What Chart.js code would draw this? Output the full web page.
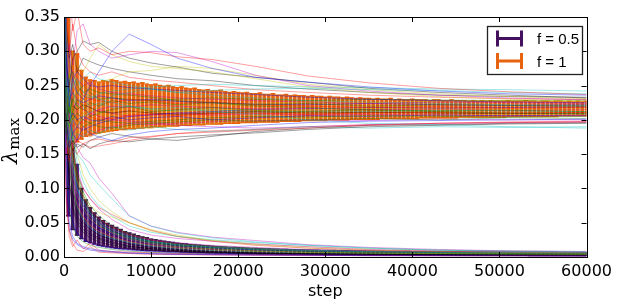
<!DOCTYPE html>
<html>
<head>
<meta charset="utf-8">
<script src="https://cdn.jsdelivr.net/npm/chart.js@4.4.0/dist/chart.umd.min.js"></script>
<style>
html, body { margin: 0; padding: 0; background: #fff; }
</style>
</head>
<body>
<canvas id="chart" width="617" height="300"></canvas>
<script>
// steps at which the individual runs are sampled
const lineSteps = [0, 250, 600, 1000, 1500, 2200, 3000, 4000, 5500, 7500, 10000, 13000, 17000, 22000, 28000, 35000, 43000, 51000, 60000];

// f = 1 runs (upper group, settle near 0.21)
const runsF1 = [
    [0.52,0.30,0.22,0.26,0.24,0.23,0.25,0.27,0.30,0.325,0.31,0.29,0.275,0.262,0.255,0.248,0.242,0.238,0.236],
    [0.40,0.18,0.25,0.21,0.23,0.22,0.205,0.21,0.215,0.22,0.212,0.215,0.218,0.214,0.212,0.215,0.213,0.214,0.212],
    [0.60,0.35,0.40,0.33,0.36,0.31,0.30,0.305,0.295,0.30,0.298,0.292,0.288,0.278,0.264,0.254,0.246,0.241,0.237],
    [0.45,0.22,0.17,0.20,0.19,0.205,0.21,0.22,0.235,0.24,0.245,0.24,0.243,0.245,0.246,0.244,0.243,0.240,0.238],
    [0.38,0.26,0.31,0.28,0.33,0.34,0.31,0.30,0.29,0.295,0.30,0.298,0.285,0.265,0.25,0.242,0.236,0.232,0.229],
    [0.55,0.33,0.26,0.30,0.28,0.27,0.29,0.31,0.295,0.285,0.278,0.275,0.27,0.26,0.248,0.24,0.234,0.23,0.228],
    [0.42,0.28,0.25,0.29,0.30,0.315,0.31,0.313,0.30,0.29,0.283,0.277,0.268,0.262,0.255,0.246,0.24,0.236,0.232],
    [0.33,0.20,0.16,0.18,0.17,0.19,0.18,0.175,0.17,0.178,0.183,0.186,0.188,0.192,0.196,0.198,0.199,0.2,0.201],
    [0.47,0.24,0.21,0.23,0.22,0.215,0.225,0.22,0.228,0.224,0.226,0.222,0.225,0.222,0.224,0.22,0.222,0.221,0.22],
    [0.36,0.17,0.14,0.16,0.15,0.165,0.17,0.172,0.168,0.174,0.176,0.18,0.182,0.185,0.188,0.192,0.195,0.196,0.197],
    [0.50,0.27,0.23,0.25,0.26,0.24,0.235,0.23,0.225,0.22,0.216,0.218,0.212,0.208,0.2,0.195,0.193,0.19,0.188],
    [0.44,0.25,0.28,0.27,0.26,0.25,0.255,0.245,0.24,0.238,0.235,0.232,0.23,0.228,0.226,0.224,0.226,0.225,0.224],
    [0.40,0.21,0.24,0.22,0.25,0.23,0.24,0.255,0.26,0.27,0.272,0.278,0.275,0.265,0.252,0.244,0.238,0.234,0.231],
    [0.37,0.19,0.17,0.155,0.165,0.16,0.17,0.175,0.18,0.176,0.172,0.175,0.178,0.181,0.186,0.19,0.192,0.194,0.195],
    [0.48,0.23,0.20,0.21,0.2,0.205,0.2,0.198,0.205,0.2,0.203,0.205,0.2,0.203,0.206,0.205,0.207,0.206,0.207],
    [0.35,0.19,0.22,0.2,0.21,0.2,0.195,0.19,0.188,0.192,0.195,0.197,0.2,0.198,0.2,0.202,0.2,0.203,0.202],
    [0.58,0.31,0.27,0.24,0.25,0.235,0.23,0.228,0.225,0.23,0.228,0.224,0.226,0.222,0.22,0.218,0.219,0.217,0.218],
    [0.30,0.16,0.18,0.17,0.18,0.175,0.185,0.18,0.19,0.185,0.19,0.186,0.183,0.186,0.19,0.188,0.19,0.189,0.19],
    [0.46,0.29,0.24,0.22,0.225,0.215,0.21,0.205,0.2,0.198,0.196,0.192,0.19,0.188,0.19,0.193,0.195,0.196,0.197],
    [0.39,0.22,0.19,0.205,0.195,0.21,0.2,0.21,0.205,0.21,0.215,0.212,0.216,0.214,0.215,0.217,0.216,0.215,0.216],
    [0.34,0.18,0.16,0.17,0.16,0.165,0.158,0.165,0.17,0.168,0.172,0.17,0.176,0.183,0.188,0.192,0.193,0.195,0.196],
    [0.41,0.26,0.23,0.24,0.23,0.225,0.23,0.235,0.232,0.228,0.23,0.227,0.225,0.223,0.222,0.224,0.222,0.221,0.222],
    [0.53,0.28,0.26,0.27,0.25,0.24,0.245,0.24,0.238,0.236,0.233,0.228,0.225,0.22,0.218,0.214,0.212,0.21,0.209],
    [0.43,0.24,0.2,0.19,0.2,0.195,0.205,0.2,0.202,0.207,0.208,0.206,0.209,0.21,0.208,0.21,0.211,0.21,0.211],
    [0.49,0.3,0.27,0.25,0.24,0.235,0.232,0.238,0.242,0.245,0.248,0.25,0.252,0.25,0.248,0.247,0.245,0.244,0.242],
    [0.37,0.2,0.18,0.2,0.19,0.2,0.21,0.215,0.22,0.218,0.222,0.22,0.218,0.216,0.217,0.215,0.216,0.214,0.215],
    [0.44,0.19,0.16,0.175,0.185,0.18,0.175,0.18,0.185,0.19,0.188,0.192,0.195,0.2,0.203,0.205,0.206,0.208,0.208],
    [0.51,0.27,0.24,0.22,0.215,0.222,0.218,0.212,0.21,0.213,0.21,0.208,0.21,0.212,0.21,0.211,0.21,0.209,0.21],
    [0.57,0.32,0.29,0.26,0.27,0.26,0.25,0.248,0.25,0.247,0.245,0.243,0.24,0.237,0.233,0.23,0.228,0.226,0.225],
    [0.36,0.21,0.19,0.21,0.2,0.19,0.195,0.2,0.197,0.195,0.198,0.2,0.203,0.205,0.204,0.206,0.205,0.204,0.205],
    [0.62,0.38,0.3,0.34,0.3,0.28,0.27,0.265,0.27,0.262,0.258,0.255,0.25,0.244,0.24,0.236,0.233,0.231,0.23],
    [0.41,0.23,0.26,0.24,0.22,0.23,0.22,0.225,0.218,0.22,0.215,0.213,0.215,0.211,0.213,0.212,0.214,0.213,0.212],
    [0.33,0.15,0.18,0.16,0.17,0.18,0.175,0.185,0.19,0.195,0.193,0.195,0.197,0.199,0.2,0.199,0.201,0.2,0.2],
    [0.48,0.28,0.23,0.21,0.22,0.21,0.215,0.21,0.212,0.217,0.219,0.222,0.22,0.224,0.226,0.225,0.227,0.228,0.227],
    [0.54,0.34,0.29,0.31,0.27,0.29,0.285,0.28,0.275,0.27,0.265,0.26,0.257,0.25,0.245,0.24,0.236,0.234,0.233],
    [0.39,0.17,0.2,0.18,0.19,0.185,0.19,0.195,0.2,0.205,0.207,0.21,0.212,0.215,0.216,0.218,0.217,0.218,0.219],
    [0.46,0.25,0.21,0.23,0.24,0.25,0.24,0.23,0.232,0.23,0.228,0.23,0.232,0.23,0.228,0.23,0.229,0.228,0.229],
    [0.35,0.2,0.17,0.165,0.17,0.165,0.16,0.162,0.165,0.17,0.175,0.18,0.184,0.186,0.19,0.193,0.195,0.197,0.198],
    [0.50,0.26,0.24,0.26,0.25,0.26,0.27,0.26,0.255,0.25,0.245,0.24,0.236,0.232,0.228,0.226,0.224,0.222,0.221],
    [0.43,0.22,0.25,0.23,0.21,0.2,0.205,0.215,0.21,0.205,0.208,0.21,0.207,0.209,0.207,0.208,0.207,0.206,0.206]
];

// f = 0.5 runs (lower group, decay towards 0)
const runsF05 = [
    [0.45,0.30,0.22,0.17,0.15,0.14,0.12,0.105,0.085,0.06,0.045,0.035,0.028,0.022,0.017,0.013,0.01,0.008,0.007],
    [0.50,0.35,0.25,0.19,0.16,0.145,0.137,0.115,0.093,0.06,0.045,0.036,0.029,0.024,0.018,0.014,0.011,0.009,0.008],
    [0.42,0.28,0.2,0.14,0.11,0.09,0.075,0.065,0.058,0.05,0.04,0.032,0.024,0.018,0.013,0.01,0.008,0.007,0.006],
    [0.48,0.26,0.15,0.1,0.07,0.05,0.04,0.032,0.025,0.019,0.014,0.011,0.008,0.006,0.005,0.004,0.0035,0.003,0.0025],
    [0.30,0.12,0.05,0.03,0.02,0.015,0.012,0.01,0.008,0.006,0.005,0.004,0.0035,0.003,0.0025,0.002,0.002,0.0018,0.0015],
    [0.55,0.33,0.24,0.17,0.12,0.09,0.07,0.055,0.042,0.031,0.023,0.018,0.014,0.011,0.008,0.0065,0.0055,0.005,0.0045],
    [0.25,0.08,0.03,0.015,0.025,0.012,0.02,0.01,0.008,0.007,0.006,0.005,0.004,0.0035,0.003,0.0025,0.002,0.002,0.0018],
    [0.52,0.32,0.23,0.18,0.14,0.11,0.09,0.075,0.06,0.045,0.036,0.03,0.025,0.021,0.017,0.013,0.01,0.009,0.008],
    [0.47,0.3,0.21,0.16,0.13,0.1,0.085,0.07,0.055,0.04,0.032,0.027,0.023,0.019,0.015,0.011,0.009,0.008,0.007],
    [0.40,0.25,0.17,0.12,0.09,0.07,0.055,0.045,0.035,0.026,0.02,0.015,0.012,0.009,0.007,0.006,0.005,0.0045,0.004],
    [0.44,0.22,0.13,0.09,0.06,0.045,0.035,0.028,0.022,0.016,0.012,0.009,0.007,0.0055,0.0045,0.004,0.0035,0.003,0.003],
    [0.35,0.16,0.08,0.05,0.035,0.025,0.02,0.016,0.013,0.01,0.008,0.006,0.005,0.004,0.0035,0.003,0.0028,0.0025,0.0022],
    [0.50,0.29,0.2,0.15,0.11,0.085,0.065,0.05,0.038,0.028,0.021,0.016,0.012,0.009,0.007,0.0055,0.0048,0.0042,0.0038],
    [0.32,0.1,0.04,0.02,0.01,0.008,0.015,0.007,0.006,0.005,0.004,0.0035,0.003,0.0025,0.002,0.002,0.0018,0.0016,0.0015],
    [0.46,0.27,0.18,0.13,0.1,0.075,0.06,0.048,0.037,0.028,0.022,0.018,0.015,0.012,0.01,0.008,0.007,0.0065,0.006],
    [0.43,0.25,0.17,0.13,0.095,0.075,0.06,0.05,0.04,0.031,0.025,0.021,0.017,0.014,0.011,0.009,0.008,0.0072,0.0066],
    [0.38,0.21,0.14,0.1,0.075,0.058,0.046,0.037,0.029,0.022,0.017,0.013,0.01,0.008,0.0065,0.0055,0.005,0.0045,0.004],
    [0.41,0.2,0.11,0.07,0.05,0.036,0.028,0.022,0.017,0.013,0.01,0.008,0.006,0.005,0.004,0.0035,0.003,0.0028,0.0025],
    [0.28,0.09,0.04,0.025,0.018,0.013,0.01,0.0085,0.007,0.0055,0.0045,0.0038,0.0032,0.0028,0.0024,0.002,0.0018,0.0016,0.0015],
    [0.49,0.31,0.22,0.16,0.125,0.095,0.075,0.06,0.046,0.034,0.026,0.02,0.016,0.013,0.01,0.008,0.007,0.006,0.0055],
    [0.45,0.3,0.21,0.15,0.12,0.1,0.085,0.072,0.062,0.05,0.039,0.03,0.023,0.017,0.013,0.01,0.008,0.007,0.006],
    [0.47,0.27,0.19,0.14,0.1,0.08,0.064,0.05,0.04,0.03,0.023,0.018,0.014,0.011,0.009,0.0075,0.0065,0.006,0.0055],
    [0.40,0.23,0.15,0.11,0.08,0.06,0.047,0.038,0.03,0.023,0.018,0.014,0.011,0.009,0.007,0.006,0.0052,0.0047,0.0043],
    [0.53,0.34,0.25,0.19,0.15,0.12,0.1,0.082,0.066,0.05,0.038,0.03,0.024,0.019,0.015,0.012,0.01,0.0085,0.0075],
    [0.37,0.19,0.11,0.075,0.055,0.04,0.032,0.026,0.02,0.015,0.012,0.0095,0.0075,0.006,0.005,0.0042,0.0037,0.0033,0.003],
    [0.44,0.24,0.16,0.12,0.09,0.068,0.054,0.043,0.034,0.026,0.02,0.016,0.013,0.01,0.0082,0.0068,0.0058,0.0052,0.0047],
    [0.33,0.14,0.07,0.045,0.03,0.022,0.017,0.014,0.011,0.0085,0.0068,0.0055,0.0045,0.0038,0.0032,0.0028,0.0025,0.0022,0.002],
    [0.51,0.31,0.21,0.155,0.115,0.088,0.07,0.056,0.044,0.033,0.025,0.019,0.015,0.012,0.0095,0.0078,0.0066,0.0058,0.0052],
    [0.42,0.22,0.14,0.1,0.072,0.054,0.043,0.034,0.027,0.021,0.016,0.012,0.0095,0.0075,0.006,0.005,0.0044,0.004,0.0036]
];

// matplotlib classic colour cycle, faded
const runColors = [
    'rgba(0,0,255,0.38)', 'rgba(0,128,0,0.38)', 'rgba(255,0,0,0.38)', 'rgba(0,191,191,0.38)',
    'rgba(191,0,191,0.38)', 'rgba(191,191,0,0.38)', 'rgba(0,0,0,0.38)'
];

// error bar positions
const errSteps = [
    500,1000,1500,2000,2500,3000,3500,4000,4500,5000,5500,6000,6500,7000,7500,8000,8500,9000,9500,10000,
    10500,11000,11500,12000,12500,13000,13500,14000,14500,15000,15500,16000,16500,17000,17500,18000,18500,19000,19500,20000,
    20500,21000,21500,22000,22500,23000,23500,24000,24500,25000,25500,26000,26500,27000,27500,28000,28500,29000,29500,30000,
    30500,31000,31500,32000,32500,33000,33500,34000,34500,35000,35500,36000,36500,37000,37500,38000,38500,39000,39500,40000,
    40500,41000,41500,42000,42500,43000,43500,44000,44500,45000,45500,46000,46500,47000,47500,48000,48500,49000,49500,50000,
    50500,51000,51500,52000,52500,53000,53500,54000,54500,55000,55500,56000,56500,57000,57500,58000,58500,59000,59500,60000
];

// f = 1 error bar top / bottom
const f1Hi = [
    0.360,0.300,0.296,0.272,0.262,0.258,0.257,0.255,0.257,0.256,0.258,0.257,0.255,0.256,0.254,0.255,0.253,0.254,0.252,0.251,
    0.252,0.250,0.249,0.250,0.248,0.247,0.248,0.246,0.245,0.246,0.244,0.243,0.244,0.242,0.242,0.243,0.241,0.240,0.241,0.240,
    0.239,0.240,0.238,0.238,0.239,0.237,0.237,0.238,0.236,0.236,0.237,0.235,0.236,0.235,0.235,0.234,0.235,0.234,0.234,0.233,
    0.234,0.233,0.233,0.232,0.233,0.232,0.231,0.232,0.231,0.231,0.230,0.231,0.230,0.230,0.231,0.229,0.230,0.229,0.229,0.230,
    0.229,0.229,0.229,0.228,0.229,0.229,0.228,0.228,0.229,0.228,0.228,0.228,0.227,0.228,0.227,0.228,0.227,0.228,0.227,0.227,
    0.227,0.228,0.227,0.227,0.227,0.228,0.227,0.227,0.226,0.227,0.227,0.226,0.227,0.227,0.226,0.227,0.226,0.227,0.226,0.227
];
const f1Lo = [
    0.150,0.160,0.168,0.172,0.176,0.178,0.180,0.181,0.182,0.183,0.184,0.185,0.186,0.186,0.187,0.187,0.188,0.188,0.189,0.189,
    0.190,0.190,0.190,0.191,0.191,0.191,0.192,0.192,0.192,0.193,0.193,0.193,0.194,0.194,0.194,0.194,0.195,0.195,0.195,0.195,
    0.196,0.196,0.196,0.196,0.197,0.197,0.197,0.197,0.197,0.198,0.198,0.198,0.198,0.198,0.199,0.199,0.199,0.199,0.199,0.199,
    0.200,0.200,0.200,0.200,0.200,0.201,0.201,0.201,0.201,0.201,0.201,0.201,0.202,0.202,0.202,0.202,0.202,0.202,0.202,0.202,
    0.202,0.203,0.203,0.203,0.203,0.203,0.203,0.203,0.203,0.203,0.204,0.204,0.204,0.204,0.204,0.204,0.204,0.204,0.204,0.204,
    0.204,0.205,0.205,0.205,0.205,0.205,0.205,0.205,0.205,0.205,0.205,0.205,0.205,0.206,0.206,0.206,0.206,0.206,0.206,0.206
];

// f = 0.5 error bar top / bottom
const f05Hi = [
    0.420,0.220,0.135,0.100,0.083,0.072,0.064,0.058,0.053,0.049,0.046,0.043,0.040,0.037,0.035,0.033,0.031,0.029,0.028,0.026,
    0.025,0.024,0.023,0.022,0.021,0.020,0.0195,0.019,0.018,0.0175,0.017,0.0165,0.016,0.0155,0.015,0.0147,0.0143,0.014,0.0137,0.0134,
    0.0131,0.0128,0.0125,0.0123,0.0120,0.0118,0.0116,0.0114,0.0112,0.0110,0.0108,0.0106,0.0105,0.0103,0.0102,0.0100,0.0099,0.0097,0.0096,0.0095,
    0.0094,0.0093,0.0092,0.0091,0.0090,0.0089,0.0088,0.0087,0.0086,0.0085,0.0085,0.0084,0.0083,0.0082,0.0082,0.0081,0.0080,0.0080,0.0079,0.0078,
    0.0078,0.0077,0.0077,0.0076,0.0075,0.0075,0.0074,0.0074,0.0073,0.0073,0.0072,0.0072,0.0071,0.0071,0.0070,0.0070,0.0070,0.0069,0.0069,0.0068,
    0.0068,0.0068,0.0067,0.0067,0.0066,0.0066,0.0066,0.0065,0.0065,0.0065,0.0064,0.0064,0.0064,0.0063,0.0063,0.0063,0.0062,0.0062,0.0062,0.0062
];
const f05Lo = [
    0.060,0.040,0.032,0.027,0.023,0.021,0.019,0.017,0.016,0.015,0.014,0.013,0.0125,0.012,0.0115,0.011,0.0105,0.010,0.0096,0.0093,
    0.0090,0.0087,0.0084,0.0081,0.0079,0.0076,0.0074,0.0072,0.0070,0.0068,0.0066,0.0065,0.0063,0.0062,0.0060,0.0059,0.0058,0.0056,0.0055,0.0054,
    0.0053,0.0052,0.0051,0.0050,0.0049,0.0048,0.0047,0.0046,0.0045,0.0045,0.0044,0.0043,0.0042,0.0042,0.0041,0.0040,0.0040,0.0039,0.0039,0.0038,
    0.0038,0.0037,0.0037,0.0036,0.0036,0.0035,0.0035,0.0034,0.0034,0.0034,0.0033,0.0033,0.0032,0.0032,0.0032,0.0031,0.0031,0.0031,0.0030,0.0030,
    0.0030,0.0029,0.0029,0.0029,0.0029,0.0028,0.0028,0.0028,0.0027,0.0027,0.0027,0.0027,0.0026,0.0026,0.0026,0.0026,0.0025,0.0025,0.0025,0.0025,
    0.0025,0.0024,0.0024,0.0024,0.0024,0.0024,0.0023,0.0023,0.0023,0.0023,0.0023,0.0022,0.0022,0.0022,0.0022,0.0022,0.0021,0.0021,0.0021,0.0021
];

const xTicks = [0, 10000, 20000, 30000, 40000, 50000, 60000];
const yTicks = [0, 0.05, 0.10, 0.15, 0.20, 0.25, 0.30, 0.35];
const legendLabels = ['f = 0.5', 'f = 1'];
const legendColors = ['#45105e', '#e8630e'];

const TICK_FONT = '16px "DejaVu Sans"';

function runDataset(ys, i) {
    return {
        type: 'line',
        data: ys.map((y, k) => ({ x: lineSteps[k], y: y })),
        borderColor: runColors[i % runColors.length],
        borderWidth: 1,
        pointRadius: 0,
        tension: 0,
        order: 0
    };
}

function barDataset(lo, hi, color, order) {
    return {
        type: 'bar',
        data: errSteps.map((s, k) => ({ x: s, y: [lo[k], hi[k]] })),
        backgroundColor: color,
        borderWidth: 0,
        barThickness: 3,
        grouped: false,
        order: order
    };
}

function capDataset(vals, color, order) {
    return {
        type: 'line',
        data: errSteps.map((s, k) => ({ x: s, y: vals[k] })),
        showLine: false,
        pointStyle: 'line',
        pointRadius: 2.3,
        pointBorderColor: color,
        pointBorderWidth: 1.5,
        order: order
    };
}

const datasets = [];
runsF1.forEach((ys, i) => datasets.push(runDataset(ys, i)));
runsF05.forEach((ys, i) => datasets.push(runDataset(ys, i + 3)));
datasets.push(barDataset(f1Lo, f1Hi, legendColors[1], 1));
datasets.push(capDataset(f1Hi, legendColors[1], 1));
datasets.push(capDataset(f1Lo, legendColors[1], 1));
datasets.push(barDataset(f05Lo, f05Hi, legendColors[0], 2));
datasets.push(capDataset(f05Hi, legendColors[0], 2));
datasets.push(capDataset(f05Lo, legendColors[0], 2));

// frame, inside ticks, axis titles and legend box
const decorations = {
    id: 'decorations',
    afterDraw(chart) {
        const ctx = chart.ctx;
        const a = chart.chartArea;
        const xs = chart.scales.x, ys = chart.scales.y;
        ctx.save();
        ctx.strokeStyle = '#000';
        ctx.lineWidth = 1;
        ctx.beginPath();
        xTicks.forEach(v => {
            const px = Math.round(xs.getPixelForValue(v)) + 0.5;
            ctx.moveTo(px, a.bottom); ctx.lineTo(px, a.bottom - 5);
            ctx.moveTo(px, a.top); ctx.lineTo(px, a.top + 5);
        });
        yTicks.forEach(v => {
            const py = Math.round(ys.getPixelForValue(v)) + 0.5;
            ctx.moveTo(a.left, py); ctx.lineTo(a.left + 5, py);
            ctx.moveTo(a.right, py); ctx.lineTo(a.right - 5, py);
        });
        ctx.stroke();
        ctx.strokeRect(Math.round(a.left) + 0.5, Math.round(a.top) + 0.5,
            Math.round(a.right - a.left), Math.round(a.bottom - a.top));

        // x title
        ctx.fillStyle = '#000';
        ctx.font = TICK_FONT;
        ctx.textAlign = 'center';
        ctx.textBaseline = 'alphabetic';
        ctx.fillText('step', (a.left + a.right) / 2, 296);

        // y title: lambda with subscript max
        ctx.save();
        ctx.translate(17, 141);
        ctx.rotate(-Math.PI / 2);
        ctx.textAlign = 'left';
        ctx.font = 'italic 21px "DejaVu Serif"';
        const wl = ctx.measureText('λ').width;
        ctx.font = '15px "DejaVu Serif"';
        const wm = ctx.measureText('max').width;
        const x0 = -(wl + wm + 1) / 2;
        ctx.font = 'italic 21px "DejaVu Serif"';
        ctx.fillText('λ', x0, 0);
        ctx.font = '15px "DejaVu Serif"';
        ctx.fillText('max', x0 + wl + 1, 2);
        ctx.restore();

        // legend
        ctx.fillStyle = '#fff';
        ctx.fillRect(487, 26, 96, 49);
        ctx.strokeStyle = '#222';
        ctx.lineWidth = 1.3;
        ctx.strokeRect(487.5, 26.5, 95, 48);
        const rows = [38.5, 61];
        rows.forEach((cy, i) => {
            ctx.strokeStyle = legendColors[i];
            ctx.lineWidth = 3;
            ctx.beginPath();
            ctx.moveTo(497.5, cy - 8); ctx.lineTo(497.5, cy + 8);
            ctx.moveTo(521.5, cy - 8); ctx.lineTo(521.5, cy + 8);
            ctx.moveTo(497.5, cy); ctx.lineTo(521.5, cy);
            ctx.stroke();
            ctx.fillStyle = '#000';
            ctx.font = '15px "Liberation Sans"';
            ctx.textAlign = 'left';
            ctx.fillText(legendLabels[i], 537, cy + 5.5);
        });
        ctx.restore();
    }
};

new Chart(document.getElementById('chart'), {
    type: 'line',
    data: { datasets: datasets },
    options: {
        responsive: false,
        animation: false,
        layout: { padding: { left: 0, right: 27, top: 17, bottom: 0 } },
        plugins: { legend: { display: false }, tooltip: { enabled: false } },
        scales: {
            x: {
                type: 'linear',
                min: 0,
                max: 60000,
                offset: false,
                grid: { display: false, drawTicks: false },
                border: { display: false },
                afterFit: s => { s.height = 43; },
                afterBuildTicks: s => { s.ticks = xTicks.map(v => ({ value: v })); },
                ticks: {
                    font: { family: 'DejaVu Sans', size: 16 },
                    color: '#000',
                    padding: 5,
                    maxRotation: 0,
                    callback: v => String(v)
                }
            },
            y: {
                type: 'linear',
                min: 0,
                max: 0.35,
                grid: { display: false, drawTicks: false },
                border: { display: false },
                afterFit: s => { s.width = 64; },
                afterBuildTicks: s => { s.ticks = yTicks.map(v => ({ value: v })); },
                ticks: {
                    font: { family: 'DejaVu Sans', size: 16 },
                    color: '#000',
                    padding: 4,
                    callback: v => v.toFixed(2)
                }
            }
        }
    },
    plugins: [decorations]
});
</script>
</body>
</html>
